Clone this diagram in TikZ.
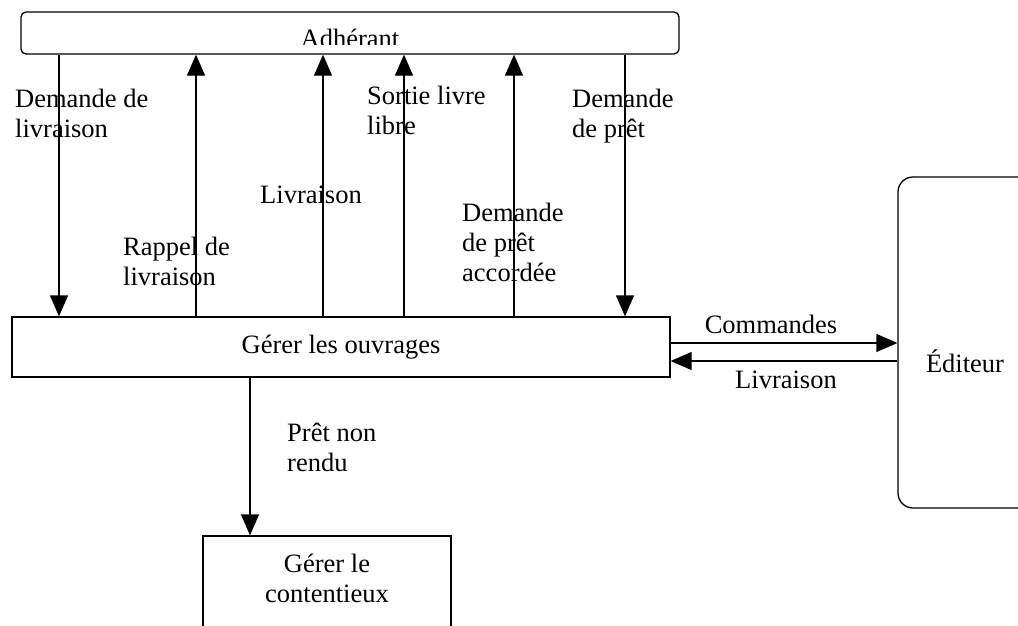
\documentclass[tikz,border=0pt]{standalone}
\usepackage{fontspec}
\setmainfont{Liberation Serif}
\usetikzlibrary{arrows.meta}
\begin{document}
\begin{tikzpicture}[x=1pt,y=-1pt,
  txt/.style={inner sep=0pt, align=left, font=\fontsize{26.5}{30}\selectfont},
  box/.style={draw, line width=1.3pt, inner sep=0pt},
  flow/.style={line width=1.3pt, -{Triangle[length=21pt,width=18pt]}},
]
\useasboundingbox (0,0) rectangle (1018,625);
\clip (0,0) rectangle (1018,625);

% boxes
\node[box, rounded corners=5pt, minimum width=658pt, minimum height=42pt] (adh) at (350,33) {};
\node[box, txt, minimum width=658pt, minimum height=60pt] (ouv) at (341,347) {Gérer les ouvrages};
\node[box, rounded corners=15pt, minimum width=142pt, minimum height=331pt] (edi) at (969,342.5) {};
\node[box, minimum width=248pt, minimum height=120pt] (cont) at (327,596) {};

% box captions
\begin{scope}
  \clip (21,12) rectangle (679,44);
  \node[txt, anchor=base] (adhtxt) at (350,47) {Adhérant};
\end{scope}
\node[txt, anchor=base] (editxt) at (965,372) {Éditeur};
\node[txt, align=center, anchor=base] (conttxt) at (327,602) {Gérer le\\contentieux};

% columns of the flows between Adhérant and Gérer les ouvrages
\coordinate (c1) at (59,0);
\coordinate (c2) at (196,0);
\coordinate (c3) at (323,0);
\coordinate (c4) at (404,0);
\coordinate (c5) at (514,0);
\coordinate (c6) at (625,0);
\coordinate (c7) at (250,0);
\coordinate (r1) at (0,343);
\coordinate (r2) at (0,361);

\draw[flow] (adh.south -| c1) -- (ouv.north -| c1);
\draw[flow] (ouv.north -| c2) -- (adh.south -| c2);
\draw[flow] (ouv.north -| c3) -- (adh.south -| c3);
\draw[flow] (ouv.north -| c4) -- (adh.south -| c4);
\draw[flow] (ouv.north -| c5) -- (adh.south -| c5);
\draw[flow] (adh.south -| c6) -- (ouv.north -| c6);
\draw[flow] (ouv.east |- r1) -- (edi.west |- r1);
\draw[flow] (edi.west |- r2) -- (ouv.east |- r2);
\draw[flow] (ouv.south -| c7) -- (cont.north -| c7);

% flow labels (anchored on the baseline of their last line)
\node[txt, anchor=base west] (l1) at (15,137) {Demande de\\livraison};
\node[txt, anchor=base west] (l2) at (123,285) {Rappel de\\livraison};
\node[txt, anchor=base west] (l3) at (260,203) {Livraison};
\node[txt, anchor=base west] (l4) at (367,134) {Sortie livre\\libre};
\node[txt, anchor=base west] (l5) at (462,281) {Demande\\de prêt\\accordée};
\node[txt, anchor=base west] (l6) at (572,137) {Demande\\de prêt};
\node[txt, anchor=base west] (l7) at (287,471) {Prêt non\\rendu};
\node[txt, anchor=base] (l8) at (771,333) {Commandes};
\node[txt, anchor=base] (l9) at (786,388) {Livraison};
\end{tikzpicture}
\end{document}
